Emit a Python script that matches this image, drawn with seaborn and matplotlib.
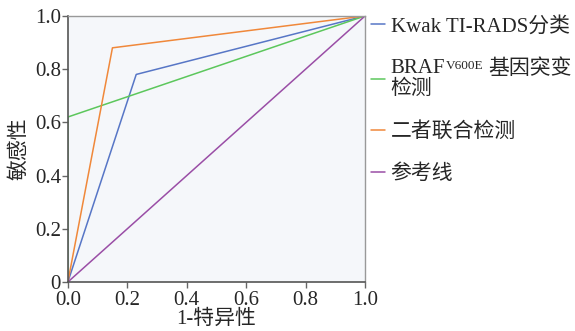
import matplotlib
matplotlib.use('Agg')
import matplotlib.pyplot as plt
import pandas as pd
import seaborn as sns

# ROC curve points (1-specificity, sensitivity)
kwak_x = [0.0, 0.23, 1.0]
kwak_y = [0.0, 0.78, 1.0]
braf_x = [0.0, 0.0, 1.0]
braf_y = [0.0, 0.62, 1.0]
combo_x = [0.0, 0.15, 1.0]
combo_y = [0.0, 0.88, 1.0]
ref_x = [0.0, 1.0]
ref_y = [0.0, 1.0]

names = ['Kwak', 'BRAF', 'Combined', 'Reference']
labels = ['Kwak TI-RADS分类', 'BRAF\n检测', '二者联合检测', '参考线']
sup_text = 'V600E'
braf_tail = '基因突变'
colors = ['#5776c6', '#5cc75c', '#f0883a', '#9a4ea6']
xticks = [0.0, 0.2, 0.4, 0.6, 0.8, 1.0]
xticklabels = ['0.0', '0.2', '0.4', '0.6', '0.8', '1.0']
yticks = [0.0, 0.2, 0.4, 0.6, 0.8, 1.0]
yticklabels = ['0', '0.2', '0.4', '0.6', '0.8', '1.0']

sns.set_style('ticks')
plt.rcParams['font.family'] = ['Liberation Serif', 'Noto Sans CJK SC']

series = [(kwak_x, kwak_y), (braf_x, braf_y), (combo_x, combo_y), (ref_x, ref_y)]
frames = []
for name, (xs, ys) in zip(names, series):
    frames.append(pd.DataFrame({'x': xs, 'y': ys, 'curve': name}))
df = pd.concat(frames, ignore_index=True)

fs = 15
fig = plt.figure(figsize=(5.75, 3.31), dpi=100)
ax = fig.add_axes([0.118, 0.148, 0.517, 0.804])
ax.set_facecolor('#f5f7fa')

sns.lineplot(data=df, x='x', y='y', hue='curve', palette=dict(zip(names, colors)),
             sort=False, estimator=None, lw=1.1, ax=ax, legend=False)

ax.set_xlim(0, 1)
ax.set_ylim(0, 1)
ax.set_xticks(xticks)
ax.set_xticklabels(xticklabels)
ax.set_yticks(yticks)
ax.set_yticklabels(yticklabels)
ax.tick_params(labelsize=fs, length=4, width=1, color='#666666', pad=1)
ax.tick_params(axis='x', pad=2.5)
ax.set_xlabel('1-特异性', fontsize=fs, labelpad=0)
ax.set_ylabel('敏感性', fontsize=fs, labelpad=4)
for s in ['left', 'bottom']:
    ax.spines[s].set_color('#555555')
    ax.spines[s].set_linewidth(1.2)
for s in ['top', 'right']:
    ax.spines[s].set_color('#999999')
    ax.spines[s].set_linewidth(1.0)

handles = [plt.Line2D([], [], color=c, lw=1.1) for c in colors]
leg = fig.legend(handles, labels, loc='upper left', bbox_to_anchor=(0.645, 0.95),
                 frameon=False, fontsize=fs, handlelength=0.7, handletextpad=0.25,
                 labelspacing=1.1, borderaxespad=0, borderpad=0)
leg.get_texts()[1].set_linespacing(1.1)

# "BRAF" + superscript V600E + 基因突变 on the first line of the second label
fig.canvas.draw()
r = fig.canvas.get_renderer()
W, H = fig.bbox.width, fig.bbox.height
bb = leg.get_texts()[1].get_window_extent(r)
tmp = fig.text(0, 0, 'BRAF', fontsize=fs)
w_braf = tmp.get_window_extent(r).width
tmp.remove()
sup = fig.text((bb.x0 + w_braf + 0.5) / W, (bb.y1 - 1) / H, sup_text, fontsize=9.5,
               ha='left', va='top')
w_sup = sup.get_window_extent(r).width
fig.text((bb.x0 + w_braf + w_sup + 5) / W, bb.y1 / H, braf_tail, fontsize=fs,
         ha='left', va='top')

fig.savefig('out.png', dpi=100)
